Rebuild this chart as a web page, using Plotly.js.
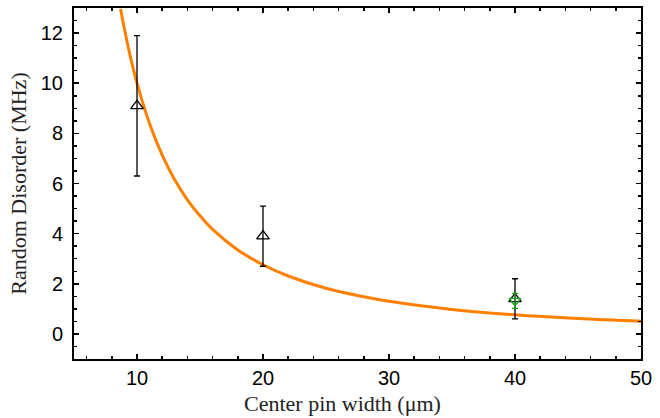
<!DOCTYPE html>
<html>
<head>
<meta charset="utf-8">
<script src="https://cdn.plot.ly/plotly-3.0.1.min.js"></script>
<style>html,body{margin:0;padding:0;background:#fff;}#chart{width:660px;height:418px;}</style>
</head>
<body>
<div id="chart"></div>
<script>
// Measured points (black open triangles)
const widths = [10, 20, 40];
const disorder = [9.1, 3.9, 1.4];
const disorderErr = [2.8, 1.2, 0.8];

// Second measurement at 40 um (green inverted triangle)
const widthsGreen = [40];
const disorderGreen = [1.32];
const disorderGreenErr = [0.3];

// Orange fit curve
const curveX = [8.7, 9, 9.5, 10, 11, 12, 13, 14, 15, 16, 18, 20, 22, 25, 28, 30, 35, 40, 45, 50];
const curveY = [12.96, 12.17, 11.0, 10.0, 8.38, 7.13, 6.14, 5.35, 4.71, 4.17, 3.35, 2.76, 2.31, 1.82, 1.48, 1.30, 0.974, 0.760, 0.611, 0.502];

const xTicks = [10, 20, 30, 40, 50];
const yTicks = [0, 2, 4, 6, 8, 10, 12];

const traces = [
  {
    x: curveX, y: curveY, type: 'scatter', mode: 'lines',
    line: {color: '#FF8000', width: 3, shape: 'spline'},
    hoverinfo: 'skip', showlegend: false
  },
  {
    x: widths, y: disorder, type: 'scatter', mode: 'markers',
    marker: {symbol: 'triangle-up-open', size: 11, color: '#000', line: {width: 1.3, color: '#000'}},
    error_y: {type: 'data', array: disorderErr, visible: true, color: '#000', thickness: 1.3, width: 3},
    showlegend: false
  },
  {
    x: widthsGreen, y: disorderGreen, type: 'scatter', mode: 'markers',
    marker: {symbol: 'triangle-down-open', size: 10, color: '#1aa31a', line: {width: 1.3, color: '#1aa31a'}},
    error_y: {type: 'data', array: disorderGreenErr, visible: true, color: '#1aa31a', thickness: 1.3, width: 3},
    showlegend: false
  }
];

const tickFont = {family: 'Liberation Sans, Arial, sans-serif', size: 20, color: '#000'};
const titleFont = {family: 'Liberation Serif, Times New Roman, serif', size: 22, color: '#222'};

const layout = {
  width: 660, height: 418,
  margin: {l: 74, r: 19, t: 8, b: 59},
  paper_bgcolor: '#fff', plot_bgcolor: '#fff',
  showlegend: false,
  xaxis: {
    range: [5, 50], tickvals: xTicks, ticktext: xTicks.map(String),
    ticks: 'inside', ticklen: 5, tickwidth: 1.5, tickcolor: '#000',
    minor: {dtick: 2, tick0: 0, ticks: 'inside', ticklen: 3, tickwidth: 1.5, tickcolor: '#000', showgrid: false},
    showline: true, linecolor: '#000', linewidth: 2, mirror: 'ticks',
    showgrid: false, zeroline: false,
    tickfont: tickFont
  },
  yaxis: {
    range: [-1, 13], tickvals: yTicks, ticktext: yTicks.map(String),
    ticks: 'inside', ticklen: 5, tickwidth: 1.5, tickcolor: '#000',
    minor: {dtick: 0.5, tick0: 0, ticks: 'inside', ticklen: 3, tickwidth: 1.5, tickcolor: '#000', showgrid: false},
    showline: true, linecolor: '#000', linewidth: 2, mirror: 'ticks',
    showgrid: false, zeroline: false,
    tickfont: tickFont, ticklabelstandoff: 5,
    title: {text: 'Random Disorder (MHz)', font: titleFont, standoff: 8}
  },
  annotations: [{
    text: 'Center pin width (μm)', font: titleFont, showarrow: false,
    xref: 'paper', yref: 'paper', x: 0.4744, y: -0.128,
    xanchor: 'center', yanchor: 'middle'
  }]
};

Plotly.newPlot('chart', traces, layout, {displayModeBar: false, staticPlot: true});
</script>
</body>
</html>
